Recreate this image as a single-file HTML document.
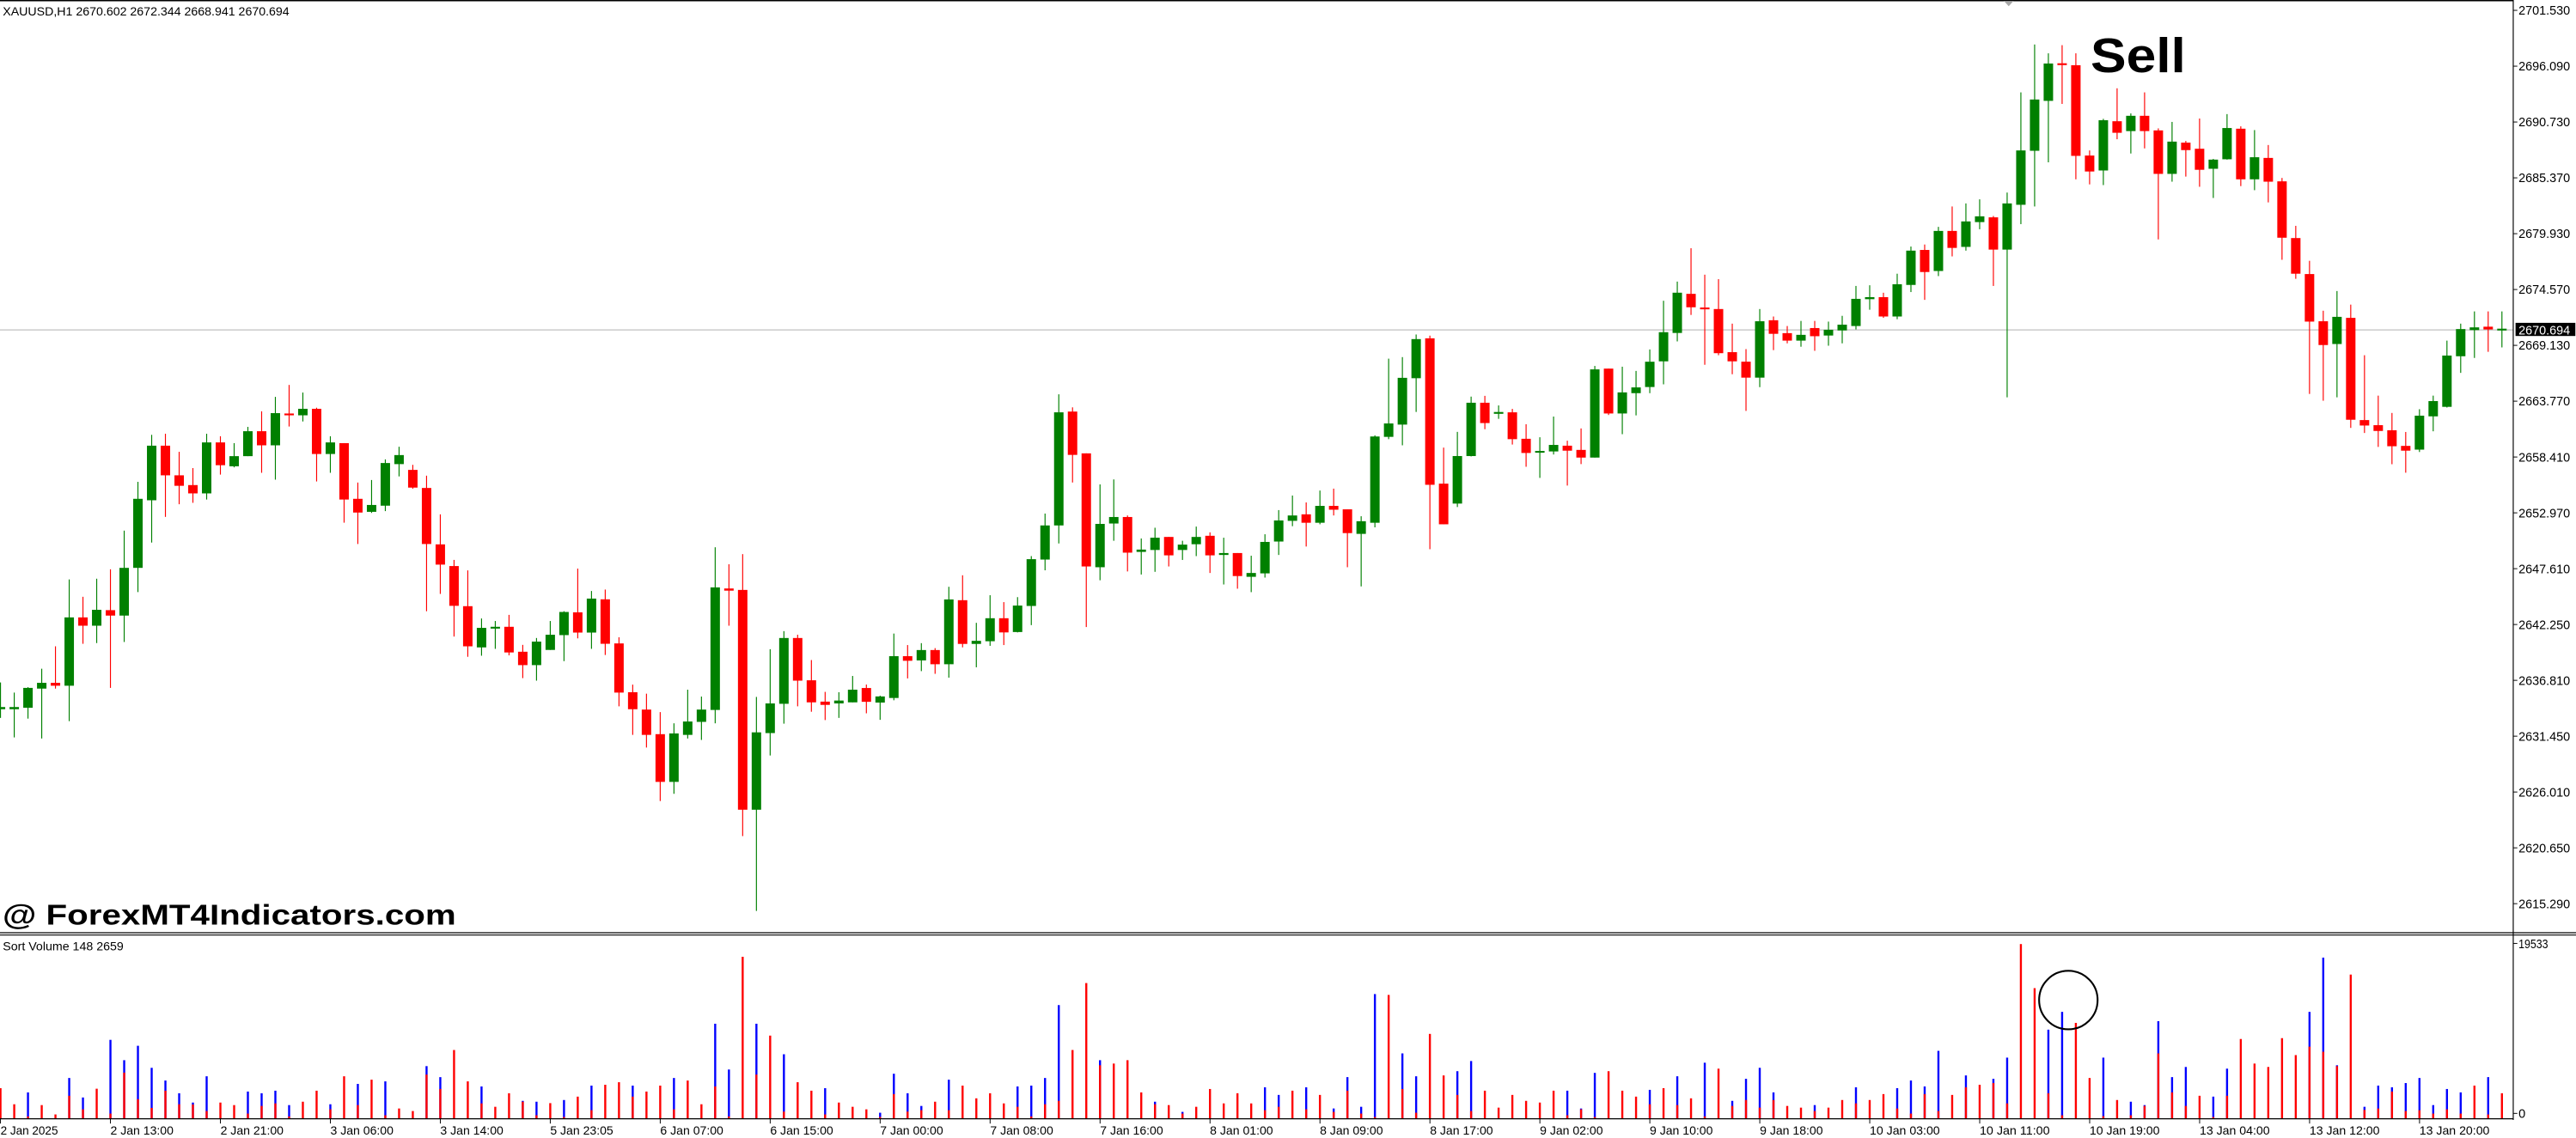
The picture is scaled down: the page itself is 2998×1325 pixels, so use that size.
<!DOCTYPE html>
<html><head><meta charset="utf-8">
<style>
html,body{margin:0;padding:0;background:#fff;}
svg{display:block;}
text{font-family:"Liberation Sans",sans-serif;}
</style></head>
<body>
<svg id="c" xmlns="http://www.w3.org/2000/svg" width="2998" height="1325" viewBox="0 0 1568 693" preserveAspectRatio="none">
<rect x="0" y="0" width="1568" height="693" fill="#fff"/>
<g id="grid">
<line x1="0" y1="200.9" x2="1530" y2="200.9" stroke="#c0c0c0" stroke-width="0.6"/>
</g>
<g id="candles"></g>
<g id="vol"></g>
<!-- frame -->
<line x1="0" y1="0.4" x2="1530" y2="0.4" stroke="#000" stroke-width="0.8"/>
<line x1="1529.8" y1="0" x2="1529.8" y2="682" stroke="#000" stroke-width="0.6"/>
<line x1="0" y1="568.0" x2="1568" y2="568.0" stroke="#000" stroke-width="0.6"/>
<line x1="0" y1="569.4" x2="1568" y2="569.4" stroke="#000" stroke-width="0.6"/>
<line x1="0" y1="681.3" x2="1530" y2="681.3" stroke="#000" stroke-width="0.6"/>
<polygon points="1219.8,0.6 1225.6,0.6 1222.7,3.8" fill="#a8a8a8"/>
<g id="ticks" stroke="#000" stroke-width="0.5"></g>
<!-- price labels -->
<g font-size="7.6" fill="#000">
<text x="1533" y="9.0" textLength="31.4" lengthAdjust="spacingAndGlyphs">2701.530</text>
<text x="1533" y="43.0" textLength="31.4" lengthAdjust="spacingAndGlyphs">2696.090</text>
<text x="1533" y="77.0" textLength="31.4" lengthAdjust="spacingAndGlyphs">2690.730</text>
<text x="1533" y="111.0" textLength="31.4" lengthAdjust="spacingAndGlyphs">2685.370</text>
<text x="1533" y="145.0" textLength="31.4" lengthAdjust="spacingAndGlyphs">2679.930</text>
<text x="1533" y="179.0" textLength="31.4" lengthAdjust="spacingAndGlyphs">2674.570</text>
<text x="1533" y="213.0" textLength="31.4" lengthAdjust="spacingAndGlyphs">2669.130</text>
<text x="1533" y="247.0" textLength="31.4" lengthAdjust="spacingAndGlyphs">2663.770</text>
<text x="1533" y="281.0" textLength="31.4" lengthAdjust="spacingAndGlyphs">2658.410</text>
<text x="1533" y="315.0" textLength="31.4" lengthAdjust="spacingAndGlyphs">2652.970</text>
<text x="1533" y="349.0" textLength="31.4" lengthAdjust="spacingAndGlyphs">2647.610</text>
<text x="1533" y="383.0" textLength="31.4" lengthAdjust="spacingAndGlyphs">2642.250</text>
<text x="1533" y="417.0" textLength="31.4" lengthAdjust="spacingAndGlyphs">2636.810</text>
<text x="1533" y="451.0" textLength="31.4" lengthAdjust="spacingAndGlyphs">2631.450</text>
<text x="1533" y="485.0" textLength="31.4" lengthAdjust="spacingAndGlyphs">2626.010</text>
<text x="1533" y="519.0" textLength="31.4" lengthAdjust="spacingAndGlyphs">2620.650</text>
<text x="1533" y="553.0" textLength="31.4" lengthAdjust="spacingAndGlyphs">2615.290</text>
<text x="1533" y="577.3" textLength="18" lengthAdjust="spacingAndGlyphs">19533</text>
<text x="1533" y="680.8">0</text>
</g>
<rect x="1531.2" y="196.6" width="36.4" height="8.0" fill="#000"/>
<text x="1533" y="203.6" font-size="7.6" fill="#fff" textLength="31.4" lengthAdjust="spacingAndGlyphs">2670.694</text>
<!-- titles -->
<text x="1.7" y="9.4" font-size="7.4" fill="#000" textLength="174.4" lengthAdjust="spacingAndGlyphs">XAUUSD,H1  2670.602 2672.344 2668.941 2670.694</text>
<text x="1.7" y="578.6" font-size="7.4" fill="#000" textLength="73.5" lengthAdjust="spacingAndGlyphs">Sort Volume 148 2659</text>
<text x="1272.5" y="43.9" font-size="29.5" font-weight="bold" fill="#000" textLength="58" lengthAdjust="spacingAndGlyphs">Sell</text>
<text x="1.6" y="563" font-size="17.5" font-weight="bold" fill="#000" textLength="276" lengthAdjust="spacingAndGlyphs">@ ForexMT4Indicators.com</text>
<ellipse cx="1259" cy="609" rx="17.8" ry="17.8" fill="none" stroke="#000" stroke-width="1.1"/>
<!-- time labels -->
<g font-size="7.4" fill="#000">
<text x="0.3" y="690.8" textLength="35" lengthAdjust="spacingAndGlyphs">2 Jan 2025</text>
<text x="67.2" y="690.8" textLength="38.4" lengthAdjust="spacingAndGlyphs">2 Jan 13:00</text>
<text x="134.2" y="690.8" textLength="38.4" lengthAdjust="spacingAndGlyphs">2 Jan 21:00</text>
<text x="201.1" y="690.8" textLength="38.4" lengthAdjust="spacingAndGlyphs">3 Jan 06:00</text>
<text x="268.0" y="690.8" textLength="38.4" lengthAdjust="spacingAndGlyphs">3 Jan 14:00</text>
<text x="334.9" y="690.8" textLength="38.4" lengthAdjust="spacingAndGlyphs">5 Jan 23:05</text>
<text x="401.9" y="690.8" textLength="38.4" lengthAdjust="spacingAndGlyphs">6 Jan 07:00</text>
<text x="468.8" y="690.8" textLength="38.4" lengthAdjust="spacingAndGlyphs">6 Jan 15:00</text>
<text x="535.7" y="690.8" textLength="38.4" lengthAdjust="spacingAndGlyphs">7 Jan 00:00</text>
<text x="602.7" y="690.8" textLength="38.4" lengthAdjust="spacingAndGlyphs">7 Jan 08:00</text>
<text x="669.6" y="690.8" textLength="38.4" lengthAdjust="spacingAndGlyphs">7 Jan 16:00</text>
<text x="736.5" y="690.8" textLength="38.4" lengthAdjust="spacingAndGlyphs">8 Jan 01:00</text>
<text x="803.4" y="690.8" textLength="38.4" lengthAdjust="spacingAndGlyphs">8 Jan 09:00</text>
<text x="870.4" y="690.8" textLength="38.4" lengthAdjust="spacingAndGlyphs">8 Jan 17:00</text>
<text x="937.3" y="690.8" textLength="38.4" lengthAdjust="spacingAndGlyphs">9 Jan 02:00</text>
<text x="1004.2" y="690.8" textLength="38.4" lengthAdjust="spacingAndGlyphs">9 Jan 10:00</text>
<text x="1071.2" y="690.8" textLength="38.4" lengthAdjust="spacingAndGlyphs">9 Jan 18:00</text>
<text x="1138.1" y="690.8" textLength="42.7" lengthAdjust="spacingAndGlyphs">10 Jan 03:00</text>
<text x="1205.0" y="690.8" textLength="42.7" lengthAdjust="spacingAndGlyphs">10 Jan 11:00</text>
<text x="1271.9" y="690.8" textLength="42.7" lengthAdjust="spacingAndGlyphs">10 Jan 19:00</text>
<text x="1338.9" y="690.8" textLength="42.7" lengthAdjust="spacingAndGlyphs">13 Jan 04:00</text>
<text x="1405.8" y="690.8" textLength="42.7" lengthAdjust="spacingAndGlyphs">13 Jan 12:00</text>
<text x="1472.7" y="690.8" textLength="42.7" lengthAdjust="spacingAndGlyphs">13 Jan 20:00</text>
</g>
<script>
(function(){
var NS="http://www.w3.org/2000/svg";
function el(p,n,a){var e=document.createElementNS(NS,n);for(var k in a)e.setAttribute(k,a[k]);p.appendChild(e);return e;}
var z4=function(z){return (420+z*660/1568)/1.912;};
var z5=function(z){return (260+z*700/1568)/1.912;};
var z6=function(z){return (z*620/1568)/1.912;};
var A=[
['g',958,964,890,988],['g',964,958,918,1042],['g',960,905,903,990],['g',907,891,852,1045],['r',891,899,790,907],
['g',899,710,605,997],['r',710,733,653,783],['g',733,689,603,781],['r',690,705,577,905],['g',705,573,470,778],
['g',573,382,335,640],['g',386,235,205,503],['r',235,317,202,432],['r',317,346,252,397],['r',344,367,297,393],
['g',367,226,202,384],['r',226,289,209,315],['g',292,264,228,295],['g',264,195,183,264],['r',195,234,140,310],
['g',234,145,100,329],['r',146,151,67,182],['g',151,133,88,168],['r',133,258,130,334],['g',258,226,209,310],
['r',228,384,228,448],['r',382,420,337,507],['g',418,399,330,421],['g',401,283,273,416],['g',286,261,238,320],
['r',302,351,288,354],['r',352,507,318,693],['r',508,564,425,645],['r',568,678,551,763],['r',679,790,580,819],
['g',793,739,713,816],['g',740,737,720,797],['r',736,807,703,815],['r',805,842,786,878],['g',842,777,767,885],
['g',800,758,720,800],['g',759,695,693,831],['r',696,752,575,768],['g',752,658,637,797],['r',660,783,633,814],
['r',782,918,765,956],['r',917,964,896,1035],['r',965,1035,921,1070],['r',1033,1165,972,1218],['g',1165,1031,1003,1198],
['g',1035,998,910,1045],['g',999,965,929,1049],['g',966,627,516,1003],['r',630,636,563,733],['r',634,1242,535,1315],
['g',1242,1028,930,1522],['g',1030,948,798,1092],['g',949,767,748,1004],['r',767,885,758,956],['r',884,945,828,971],
['r',943,952,916,994],['g',948,940,917,988],['g',945,910,872,945]];
var B=[
['r',1212,1248,1203,1278],['g',1250,1234,1232,1295],['g',1238,1129,1070,1244],['r',1129,1141,1100,1187],['g',1140,1113,1095,1168],
['r',1113,1150,1108,1175],['g',1150,981,948,1185],['r',983,1097,918,1106],['g',1097,1089,1042,1158],['g',1090,1030,970,1102],
['r',1030,1067,988,1100],['g',1066,997,975,1067],['g',998,876,868,1048],['g',877,788,757,905],['g',788,493,446,835],
['r',491,604,480,676],['r',600,895,600,1053],['g',897,784,681,931],['g',783,766,668,828],['r',766,859,762,908],
['g',857,851,822,916],['g',852,820,794,909],['r',818,866,818,895],['g',852,838,828,878],['g',837,818,791,868],
['r',815,866,806,912],['g',865,860,820,942],['r',860,920,860,953],['g',922,912,867,962],['g',913,831,811,924],
['g',830,775,748,865],['g',776,762,710,790],['r',759,781,728,843],['g',781,737,697,785],['r',737,747,692,762],
['r',746,808,746,897],['g',810,777,764,947],['g',781,556,553,793],['g',557,522,353,563],['g',525,403,349,579],
['g',404,302,290,492],['r',300,682,293,850],['r',679,785,585,785],['g',731,607,544,740],['g',607,468,452,608],
['r',468,521,450,537],['g',496,493,475,510],['r',493,563,484,577],['r',562,599,524,635],['g',598,594,558,664],
['g',595,578,504,603],['r',580,593,567,684],['r',591,611,535,628],['g',611,381,372,611],['r',379,496,379,500],
['g',496,441,374,550],['g',443,428,385,501],['g',427,361,329,443],['g',360,284,202,420],['g',286,181,152,308],
['r',184,219,65,239],['r',220,224,134,369]];
var C=[
['r',910,1040,822,1046],['r',1037,1064,953,1102],['r',1065,1112,1028,1210],['g',1112,946,910,1140],['r',943,983,932,1031],
['r',981,1003,960,1011],['g',1003,986,945,1021],['r',966,990,945,1033],['g',988,971,947,1018],['g',973,956,930,1011],
['g',960,880,842,970],['g',881,875,840,912],['r',875,932,862,936],['g',932,837,806,940],['g',839,738,726,860],
['r',736,801,720,883],['g',798,680,668,813],['r',680,730,608,755],['g',727,652,599,738],['g',654,637,587,675],
['r',640,735,636,842],['g',735,599,567,1170],['g',603,443,272,660],['g',444,293,131,608],['g',297,187,157,478],
['r',187,191,133,306],['r',192,459,157,528],['r',458,505,443,543],['g',502,354,350,545],['r',357,391,260,410],
['g',386,341,334,452],['r',341,386,272,437],['r',384,512,378,705],['g',512,417,359,535],['r',420,442,415,520],
['r',438,500,349,550],['g',497,470,468,583],['g',469,377,336,470],['r',379,528,372,548],['g',528,463,383,560],
['r',465,535,427,596],['r',534,700,524,765],['r',701,806,665,821],['r',807,947,768,1160],['r',946,1016,915,1180],
['g',1013,933,857,1170],['r',936,1236,897,1260],['r',1237,1253,1046,1275],['r',1252,1269,1165,1316],['r',1267,1314,1216,1367],
['r',1313,1327,1272,1392],['g',1324,1224,1205,1331],['g',1226,1181,1165,1270],['g',1198,1047,1003,1200],['g',1049,969,953,1098],
['g',972,964,917,1054],['r',962,970,917,1036],['g',972,969,917,1023]];
var all=[];
A.forEach(function(d){all.push([d[0],z4(d[1]),z4(d[2]),z4(d[3]),z4(d[4])]);});
B.forEach(function(d){all.push([d[0],z5(d[1]),z5(d[2]),z5(d[3]),z5(d[4])]);});
C.forEach(function(d){all.push([d[0],z6(d[1]),z6(d[2]),z6(d[3]),z6(d[4])]);});
var g=document.getElementById('candles');
var BW=5.75;
all.forEach(function(d,i){
  var x=0.3+8.366*i, col=d[0]=='g'?'#008000':'#ff0000';
  var t=Math.min(d[1],d[2]), b=Math.max(d[1],d[2]);
  if(b-t<1.1){var m=(t+b)/2;t=m-0.55;b=m+0.55;}
  el(g,'rect',{x:x-0.3,y:d[3],width:0.6,height:Math.max(0.5,d[4]-d[3]),fill:col});
  el(g,'rect',{x:x-BW/2,y:t,width:BW,height:b-t,fill:col});
});
// volume: [blueTop or 0, redTop] in zoom coords, baseline 797
var V=[[0,690],[0,747],[705,790],[0,750],[0,783],[654,717],[723,765],[0,692],[519,780],[591,635],
[540,729],[618,760],[663,699],[708,747],[741,748],[648,771],[0,741],[0,750],[702,780],[708,753],
[699,744],[750,790],[0,738],[0,699],[747,765],[0,648],[675,750],[0,660],[666,786],[0,762],
[0,771],[612,642],[651,693],[0,555],[0,666],[684,744],[0,756],[0,708],[735,738],[738,786],
[0,743],[732,792],[0,720],[681,768],[0,678],[0,669],[681,720],[0,702],[0,681],[654,765],
[0,663],[0,747],[462,684],[624,790],[0,225],[462,642],[0,504],[570,773],[0,669],[0,699],
[690,783],[0,741],[0,756],
[0,765],[777,792],[639,711],[708,773],[753,768],[0,738],[660,768],[0,681],[0,726],[0,708],
[0,744],[684,756],[681,790],[654,747],[396,735],[0,555],[0,318],[591,609],[0,603],[0,591],
[0,705],[738,747],[0,750],[774,780],[0,756],[0,693],[0,744],[0,708],[0,744],[687,768],
[714,756],[0,699],[687,765],[0,714],[762,774],[651,699],[756,780],[357,792],[0,360],[567,693],
[648,777],[0,498],[0,645],[630,714],[594,771],[0,699],[0,759],[0,714],[0,735],[0,741],
[0,699],[699,786],[762,765],[636,792],[0,630],[0,699],[0,720],[696,747],[0,690],[648,750],
[0,726],[600,790],
[0,621],[735,753],[657,732],[618,759],[705,732],[0,753],[0,759],[750,771],[0,759],[0,732],
[687,744],[0,732],[0,711],[690,762],[663,780],[684,711],[558,771],[0,714],[645,687],[0,678],
[657,672],[582,744],[0,180],[0,336],[483,708],[420,786],[0,459],[0,654],[582,789],[0,732],
[738,786],[750,753],[453,567],[651,705],[615,753],[0,717],[720,792],[621,717],[0,516],[0,603],
[0,615],[0,513],[0,573],[420,543],[228,561],[609,612],[0,288],[756,767],[681,762],[687,702],
[672,771],[654,768],[750,780],[693,765],[705,780],[0,681],[651,783],[0,708]];
var vg=document.getElementById('vol');
function vy(z){return (1040+z/3.04)/1.912;}
var base=vy(797), VW=1.25;
V.forEach(function(d,i){
  var x=0.3+8.366*i;
  if(d[0]>0) el(vg,'rect',{x:x-VW/2,y:vy(d[0]),width:VW,height:base-vy(d[0]),fill:'#0000ff'});
  if(d[1]>0&&d[1]<797) el(vg,'rect',{x:x-VW/2,y:vy(d[1]),width:VW,height:base-vy(d[1]),fill:'#ff0000'});
});
var tg=document.getElementById('ticks');
for(var k=0;k<23;k++){var x=0.3+66.93*k; el(tg,'line',{x1:x,y1:681.3,x2:x,y2:684.2});}
for(var j=0;j<17;j++){var y=6.3+34*j; el(tg,'line',{x1:1529.8,y1:y,x2:1532.3,y2:y});}
el(tg,'line',{x1:1529.8,y1:574.5,x2:1532.3,y2:574.5});
el(tg,'line',{x1:1529.8,y1:678,x2:1532.3,y2:678});
})();
</script>
</svg>
</body></html>
